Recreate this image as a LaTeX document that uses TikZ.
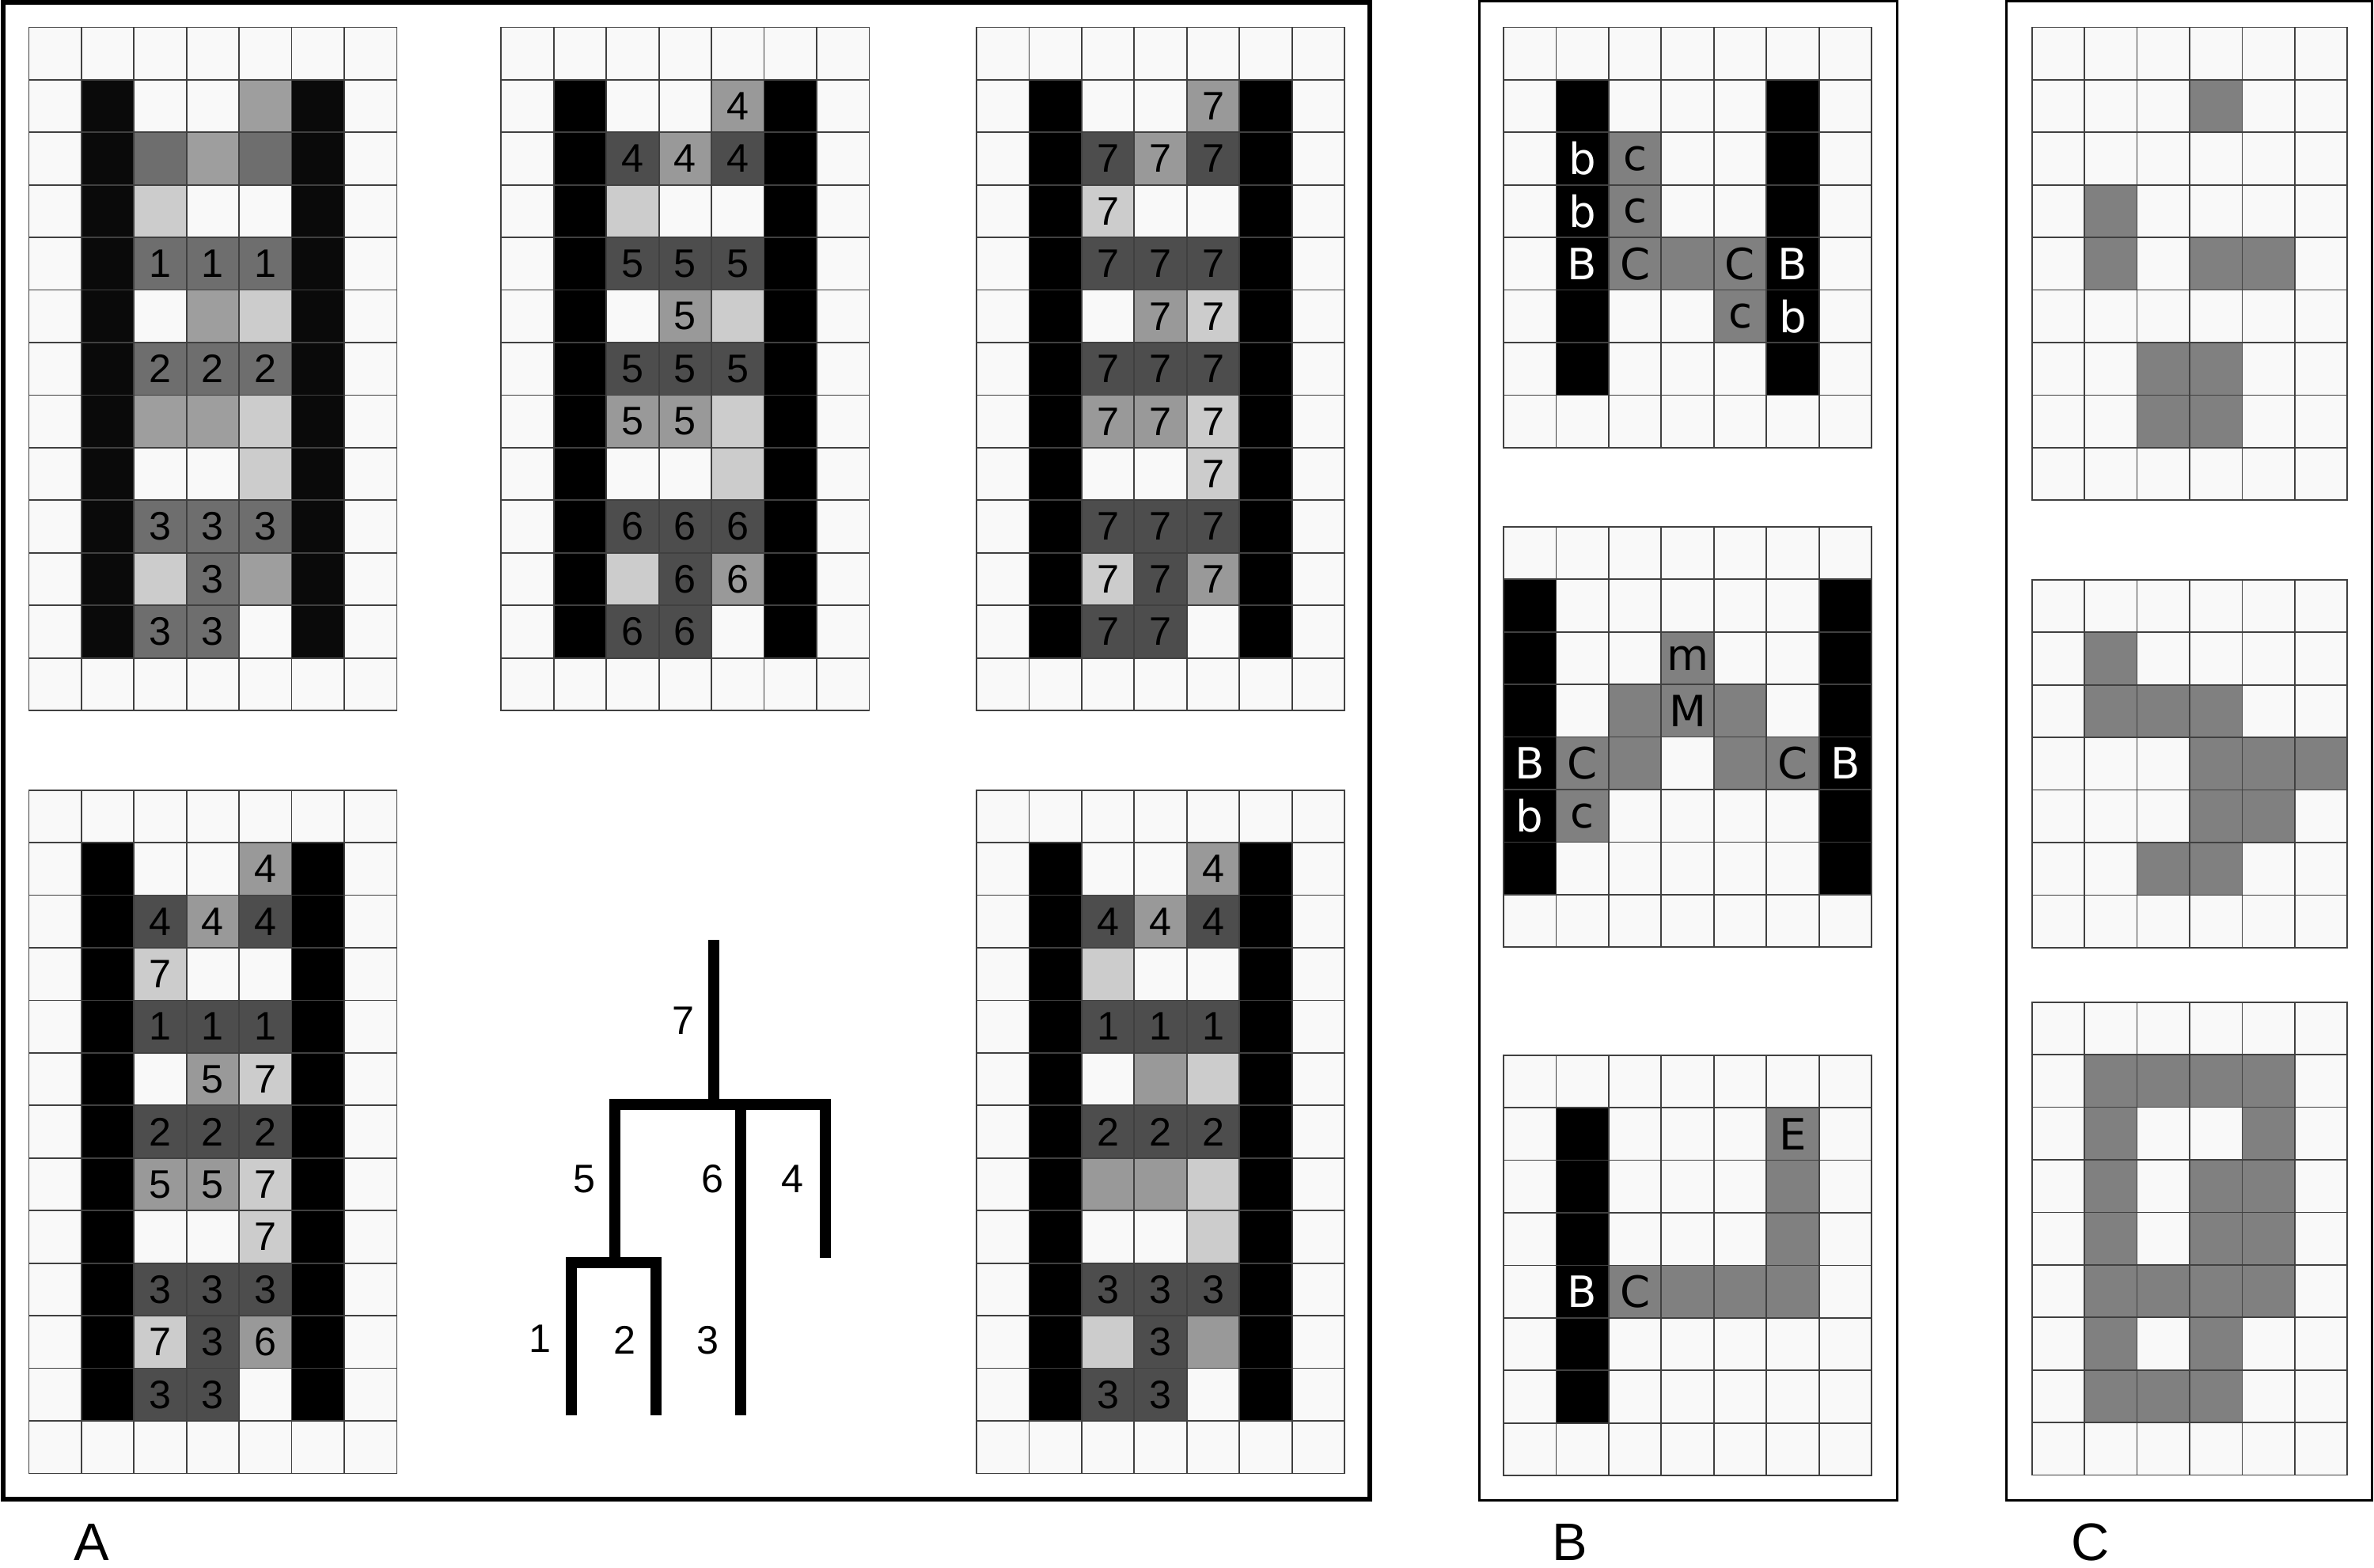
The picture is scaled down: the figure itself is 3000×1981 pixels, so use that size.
\documentclass[tikz,border=0pt]{standalone}
\usepackage{fontspec}
\setmainfont{Liberation Sans}
\newfontfamily\letterfont{DejaVu Sans}
\usepackage{xcolor}
\usepackage{tikz}

\definecolor{cwhite}{HTML}{F9F9F9}
\definecolor{cline}{HTML}{404040}
\definecolor{cblack}{HTML}{000000}
\definecolor{cdark}{HTML}{4D4D4D}
\definecolor{cmid}{HTML}{999999}
\definecolor{clight}{HTML}{CCCCCC}
\definecolor{cgray}{HTML}{808080}

% empty grid of #1 columns and #2 rows
\newcommand{\blankgrid}[2]{%
  \foreach \i in {1,...,#1}{\foreach \j in {1,...,#2}{%
    \draw[cellbox] (\i-1,\j-1) rectangle (\i,\j);}}}
% black column #1 from row #2 to row #3
\newcommand{\strip}[3]{%
  \foreach \j in {#2,...,#3}{\draw[cellbox, fill=cblack] (#1-1,\j-1) rectangle (#1,\j);}}
\newcommand{\fillcells}[2]{%
  \foreach \c/\r in {#2}{\draw[cellbox, fill=#1] (\c-1,\r-1) rectangle (\c,\r);}}
\newcommand{\cellmarks}[2]{%
  \foreach \c/\r/\t in {#2}{\node[#1] (\gname-\c-\r) at (\c-0.5,\r-0.5) {\t};}}
% shading shared by the five grids of panel A
\newcommand{\shadeA}{%
  \foreach \c/\r/\s in {5/2/mid,3/3/dark,4/3/mid,5/3/dark,3/4/light,
      3/5/dark,4/5/dark,5/5/dark,4/6/mid,5/6/light,3/7/dark,4/7/dark,5/7/dark,
      3/8/mid,4/8/mid,5/8/light,5/9/light,3/10/dark,4/10/dark,5/10/dark,
      3/11/light,4/11/dark,5/11/mid,3/12/dark,4/12/dark}{%
    \draw[cellbox, fill=c\s] (\c-1,\r-1) rectangle (\c,\r);}}
\newcommand{\gridA}{\blankgrid{7}{13}\strip{2}{2}{12}\strip{6}{2}{12}\shadeA}

\begin{document}
\begin{tikzpicture}[
    x=0.01cm, y=-0.01cm,
    cells/.style 2 args={shift={(#1,#2)}, x=0.664cm, y=-0.664cm},
    cellbox/.style={draw=cline, line width=0.5pt, fill=cwhite},
    num/.style={font=\fontsize{14.3}{17}\selectfont, inner sep=0pt},
    lbl/.style={font=\letterfont\fontsize{15.5}{18}\selectfont, inner sep=0pt},
    wlbl/.style={lbl, text=white},
    branch/.style={line width=0.14cm, line join=miter},
    panel/.style={draw, line width=0.03cm},
    tag/.style={font=\fontsize{19}{23}\selectfont, inner sep=0pt}
]
\useasboundingbox (0,0) rectangle (3000,1981);

% panel frames
\draw[panel, line width=0.06cm] (4,3) rectangle (1731,1895);
\draw[panel] (1869,1.5) rectangle (2397,1896);
\draw[panel] (2535,1.5) rectangle (2997,1896);

% ---- panel A ----
\begin{scope}[cells={36.4}{34.4}]
  \def\gname{aone}
  \definecolor{cblack}{HTML}{0A0A0A}
  \definecolor{cdark}{HTML}{6E6E6E}
  \definecolor{cmid}{HTML}{9E9E9E}
  \gridA
  \cellmarks{num}{3/5/1,4/5/1,5/5/1,3/7/2,4/7/2,5/7/2,3/10/3,4/10/3,5/10/3,4/11/3,3/12/3,4/12/3}
\end{scope}

\begin{scope}[cells={633.3}{34.4}]
  \def\gname{atwo}
  \gridA
  \cellmarks{num}{5/2/4,3/3/4,4/3/4,5/3/4,3/5/5,4/5/5,5/5/5,4/6/5,3/7/5,4/7/5,5/7/5,
    3/8/5,4/8/5,3/10/6,4/10/6,5/10/6,4/11/6,5/11/6,3/12/6,4/12/6}
\end{scope}

\begin{scope}[cells={1234}{34.4}]
  \def\gname{athree}
  \gridA
  \cellmarks{num}{5/2/7,3/3/7,4/3/7,5/3/7,3/4/7,3/5/7,4/5/7,5/5/7,4/6/7,5/6/7,
    3/7/7,4/7/7,5/7/7,3/8/7,4/8/7,5/8/7,5/9/7,3/10/7,4/10/7,5/10/7,
    3/11/7,4/11/7,5/11/7,3/12/7,4/12/7}
\end{scope}

\begin{scope}[cells={36.4}{998.7}]
  \def\gname{afour}
  \gridA
  \cellmarks{num}{5/2/4,3/3/4,4/3/4,5/3/4,3/4/7,3/5/1,4/5/1,5/5/1,4/6/5,5/6/7,
    3/7/2,4/7/2,5/7/2,3/8/5,4/8/5,5/8/7,5/9/7,3/10/3,4/10/3,5/10/3,
    3/11/7,4/11/3,5/11/6,3/12/3,4/12/3}
\end{scope}

\begin{scope}[cells={1234}{998.7}]
  \def\gname{afive}
  \gridA
  \cellmarks{num}{5/2/4,3/3/4,4/3/4,5/3/4,3/5/1,4/5/1,5/5/1,3/7/2,4/7/2,5/7/2,
    3/10/3,4/10/3,5/10/3,4/11/3,3/12/3,4/12/3}
\end{scope}

% merge tree
\coordinate (leafone) at (722,1789);
\coordinate (leaftwo) at (829,1789);
\coordinate (leafthree) at (935.5,1789);
\coordinate (joinfive) at (777,1596);
\coordinate (topbar) at (777,1396);
\coordinate (endfour) at (1042.5,1590);
\coordinate (roottop) at (902,1188);
\draw[branch] (leafone) |- (leaftwo |- joinfive) -- (leaftwo);
\draw[branch] (joinfive) |- (endfour |- topbar) -- (endfour);
\draw[branch] (roottop) -- (roottop |- topbar);
\draw[branch] (leafthree |- topbar) -- (leafthree);

\node[num] (tseven) at (863,1290) {7};
\node[num] (tfive) at (738,1490) {5};
\node[num] (tsix) at (900,1490) {6};
\node[num] (tfour) at (1001,1490) {4};
\node[num] (tone) at (682,1692) {1};
\node[num] (ttwo) at (789,1694) {2};
\node[num] (tthree) at (894,1694) {3};

% ---- panel B ----
\begin{scope}[cells={1900}{34.4}]
  \def\gname{bone}
  \blankgrid{7}{8}\strip{2}{2}{7}\strip{6}{2}{7}
  \fillcells{cgray}{3/3,3/4,3/5,4/5,5/5,5/6}
  \cellmarks{wlbl}{2/3/b,2/4/b,2/5/B,6/5/B,6/6/b}
  \cellmarks{lbl}{3/3/c,3/4/c,3/5/C,5/5/C,5/6/c}
\end{scope}

\begin{scope}[cells={1900}{665.8}]
  \def\gname{btwo}
  \blankgrid{7}{8}\strip{1}{2}{7}\strip{7}{2}{7}
  \fillcells{cgray}{4/3,3/4,4/4,5/4,2/5,3/5,5/5,6/5,2/6}
  \cellmarks{wlbl}{1/5/B,1/6/b,7/5/B}
  \cellmarks{lbl}{4/3/m,4/4/M,2/5/C,6/5/C,2/6/c}
\end{scope}

\begin{scope}[cells={1900}{1333.6}]
  \def\gname{bthree}
  \blankgrid{7}{8}\strip{2}{2}{7}
  \fillcells{cgray}{6/2,6/3,6/4,3/5,4/5,5/5,6/5}
  \cellmarks{wlbl}{2/5/B}
  \cellmarks{lbl}{6/2/E,3/5/C}
\end{scope}

% ---- panel C ----
\begin{scope}[cells={2567.6}{34.4}]
  \blankgrid{6}{9}
  \fillcells{cgray}{4/2,2/4,2/5,4/5,5/5,3/7,4/7,3/8,4/8}
\end{scope}

\begin{scope}[cells={2567.6}{732.8}]
  \blankgrid{6}{7}
  \fillcells{cgray}{2/2,2/3,3/3,4/3,4/4,5/4,6/4,4/5,5/5,3/6,4/6}
\end{scope}

\begin{scope}[cells={2567.6}{1266.6}]
  \blankgrid{6}{9}
  \fillcells{cgray}{2/2,3/2,4/2,5/2,2/3,5/3,2/4,4/4,5/4,2/5,4/5,5/5,
    2/6,3/6,4/6,5/6,2/7,4/7,2/8,3/8,4/8}
\end{scope}

% panel letters
\node[tag] (tagA) at (116,1949) {A};
\node[tag] (tagB) at (1984,1949) {B};
\node[tag] (tagC) at (2642,1949) {C};
\end{tikzpicture}
\end{document}
